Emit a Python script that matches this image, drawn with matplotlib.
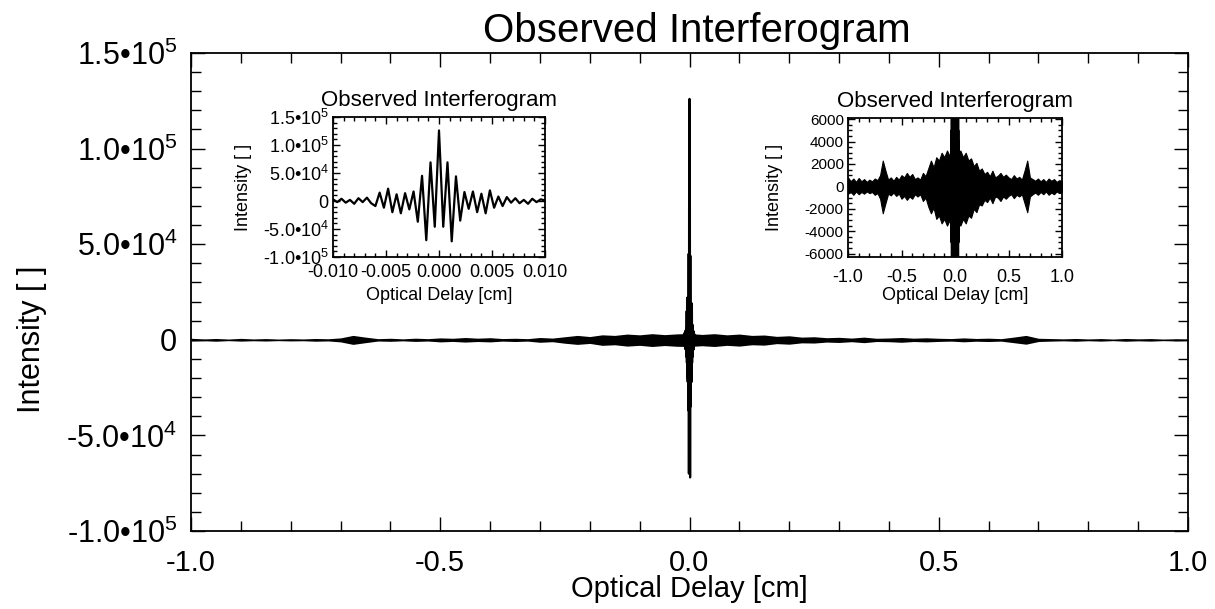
import numpy as np
import matplotlib.pyplot as plt
from matplotlib.ticker import MultipleLocator, FuncFormatter

plt.rcParams['font.family'] = 'Liberation Sans'
plt.rcParams['mathtext.fontset'] = 'custom'
plt.rcParams['mathtext.rm'] = 'Liberation Sans'
plt.rcParams['mathtext.it'] = 'Liberation Sans:italic'

# centre burst of the interferogram, one sample every 0.0004 cm from -0.01 to 0.01
burst_x = np.arange(-25, 26) * 0.0004
burst_y = [3000, -2000, 4000, -3000, 2000, -5000, 5000, -2000, 6000, -4000,
           -9000, 15000, -12000, 22000, -20000, 12000, -22000, 14000, -15000, 17000,
           -37000, 45000, -70000, 69000, -46000, 126000, -46000, 69000, -72000, 44000,
           -35000, 16000, -14000, 17000, -20000, 13000, -22000, 19000, -12000, 8000,
           -9000, 7000, -3000, 5000, -4000, 2000, -5000, 4000, -2000, 3000, 1000]

# upper / lower envelope of the signal away from the burst, every 0.025 cm
env_x = np.linspace(-1.0, 1.0, 81)
env_hi = [800, 450, 700, 400, 750, 450, 650, 400, 600, 450,
          700, 550, 1000, 2300, 1400, 600, 800, 500, 850, 600,
          1000, 800, 1200, 850, 1100, 650, 800, 600, 1200, 900,
          1600, 2300, 1700, 2600, 2300, 3000, 2600, 3200, 2700, 3100,
          3300,
          2800, 3200, 2600, 3000, 2300, 2500, 1800, 2100, 1400, 1600,
          1100, 1300, 900, 1400, 800, 950, 1200, 850, 1050, 800,
          650, 1000, 700, 850, 600, 1400, 2300, 800, 650, 500,
          700, 450, 650, 400, 700, 500, 650, 400, 550, 450]
env_lo = [-650, -500, -750, -450, -700, -500, -650, -450, -600, -500,
          -750, -600, -1100, -2400, -1500, -650, -800, -550, -850, -650,
          -1100, -850, -1200, -900, -1100, -700, -900, -700, -1300, -1000,
          -1800, -2400, -1900, -2900, -2600, -3300, -2900, -3500, -3000, -3400,
          -3500,
          -3100, -3500, -2900, -3300, -2600, -2800, -2000, -2300, -1600, -1700,
          -1200, -1400, -1000, -1500, -900, -1000, -1300, -900, -1100, -850,
          -700, -1050, -750, -900, -700, -1500, -2300, -900, -700, -550,
          -750, -500, -700, -450, -750, -550, -700, -450, -600, -500]

title = 'Observed Interferogram'
xlab = 'Optical Delay [cm]'
ylab = 'Intensity [ ]'


def sci(v, pos):
    if abs(v) < 1e-9:
        return '0'
    e = int(np.floor(np.log10(abs(v)) + 1e-9))
    m = v / 10 ** e
    return '%.1f\u202210$^{%d}$' % (m, e)


def idl_ticks(ax, major, minor_len):
    ax.tick_params(which='both', direction='in', top=True, right=True, width=1.0)
    ax.tick_params(which='major', length=major)
    ax.tick_params(which='minor', length=minor_len)
    for s in ax.spines.values():
        s.set_linewidth(1.3)


fig = plt.figure(figsize=(12.15, 6.09), dpi=100)

# main panel
ax = fig.add_axes([191 / 1215, 1 - 531 / 609, 997 / 1215, 478 / 609])
ax.fill_between(env_x, env_lo, env_hi, color='black', lw=0)
ax.plot(burst_x, burst_y, color='black', lw=1.6)
ax.set_xlim(-1, 1)
ax.set_ylim(-1e5, 1.5e5)
ax.xaxis.set_major_locator(MultipleLocator(0.5))
ax.xaxis.set_minor_locator(MultipleLocator(0.1))
ax.yaxis.set_major_locator(MultipleLocator(5e4))
ax.yaxis.set_minor_locator(MultipleLocator(1e4))
ax.xaxis.set_major_formatter(FuncFormatter(lambda v, p: '%.1f' % v))
ax.yaxis.set_major_formatter(FuncFormatter(sci))
idl_ticks(ax, 10, 7)
ax.tick_params(axis='x', labelsize=21, pad=13)
ax.tick_params(axis='y', labelsize=22, pad=10)
ax.set_title(title, fontsize=29, pad=8, x=0.507)
ax.set_xlabel(xlab, fontsize=21)
ax.xaxis.set_label_coords(0.5, -0.092)
ax.set_ylabel(ylab, fontsize=22)
ax.yaxis.set_label_coords(-0.144, 0.4)

# zoom on the burst
a1 = fig.add_axes([333 / 1215, 1 - 257 / 609, 212 / 1215, 140 / 609])
a1.plot(burst_x, burst_y, color='black', lw=1.6)
a1.set_xlim(-0.01, 0.01)
a1.set_ylim(-1e5, 1.5e5)
a1.xaxis.set_major_locator(MultipleLocator(0.005))
a1.xaxis.set_minor_locator(MultipleLocator(0.001))
a1.yaxis.set_major_locator(MultipleLocator(5e4))
a1.yaxis.set_minor_locator(MultipleLocator(1e4))
a1.xaxis.set_major_formatter(FuncFormatter(lambda v, p: '%.3f' % v))
a1.yaxis.set_major_formatter(FuncFormatter(sci))
idl_ticks(a1, 5, 3)
a1.tick_params(axis='x', labelsize=13, pad=5)
a1.tick_params(axis='y', labelsize=13, pad=3)
a1.set_title(title, fontsize=16, pad=8)
a1.set_xlabel(xlab, fontsize=13, labelpad=4)
a1.set_ylabel(ylab, fontsize=13, labelpad=8)

# zoom on the low-level signal
a2 = fig.add_axes([848 / 1215, 1 - 257 / 609, 214 / 1215, 139 / 609])
a2.fill_between(env_x, env_lo, env_hi, color='black', lw=0.8)
a2.plot(burst_x, burst_y, color='black', lw=5)
a2.set_xlim(-1, 1)
a2.set_ylim(-6300, 6100)
a2.xaxis.set_major_locator(MultipleLocator(0.5))
a2.xaxis.set_minor_locator(MultipleLocator(0.1))
a2.yaxis.set_major_locator(MultipleLocator(2000))
a2.yaxis.set_minor_locator(MultipleLocator(500))
a2.xaxis.set_major_formatter(FuncFormatter(lambda v, p: '%.1f' % v))
a2.yaxis.set_major_formatter(FuncFormatter(lambda v, p: '%d' % v))
idl_ticks(a2, 5, 3)
a2.tick_params(axis='x', labelsize=13, pad=9)
a2.tick_params(axis='y', labelsize=11, pad=3)
a2.set_title(title, fontsize=16, pad=8)
a2.set_xlabel(xlab, fontsize=13, labelpad=0)
a2.set_ylabel(ylab, fontsize=13, labelpad=16)

fig.savefig('out.png', dpi=100)
